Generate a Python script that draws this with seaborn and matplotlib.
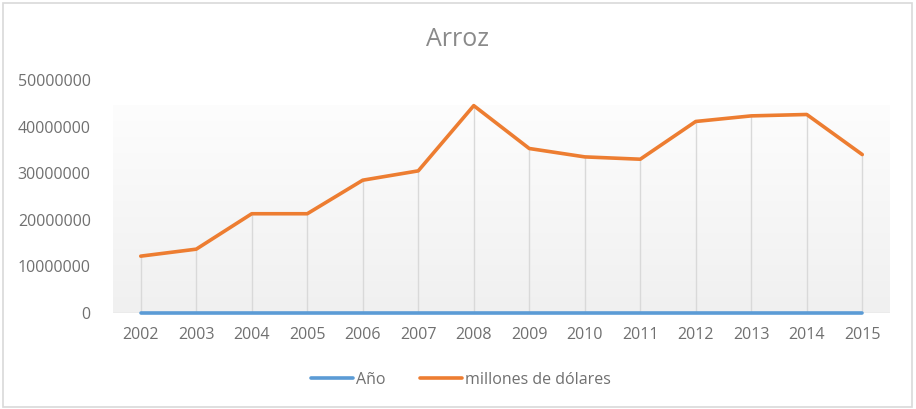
import numpy as np
import pandas as pd
import matplotlib.pyplot as plt
import seaborn as sns
from matplotlib.patches import Rectangle

# Datos
anios = [2002, 2003, 2004, 2005, 2006, 2007, 2008, 2009, 2010, 2011, 2012, 2013, 2014, 2015]
millones = [12200000, 13700000, 21300000, 21300000, 28500000, 30500000, 44500000,
            35300000, 33500000, 33000000, 41100000, 42300000, 42600000, 34000000]
etiquetas_y = [0, 10000000, 20000000, 30000000, 40000000, 50000000]

df = pd.DataFrame({"x": anios, "Año": anios, "millones de dólares": millones})

sns.set_style("white")
plt.rcParams['font.family'] = ['Open Sans', 'DejaVu Sans']
gris_texto = "#707070"

fig = plt.figure(figsize=(9.16, 4.09), dpi=100)
ax = fig.add_axes([113 / 916, 1 - 313 / 409, 777 / 916, 233 / 409])

# Fondo degradado del área de trazado
grad = np.linspace(0, 1, 256).reshape(-1, 1)
cmap = sns.blend_palette(["#fdfdfd", "#f0f0f0"], as_cmap=True)
ax.imshow(grad, extent=(2001.5, 2015.5, 0, 44600000), aspect='auto',
          cmap=cmap, origin='upper', zorder=0)

# Líneas de caída
ax.vlines(anios, 0, millones, color="#d9d9d9", lw=1, zorder=1)
ax.axhline(0, color="#d9d9d9", lw=1, zorder=1)

sns.lineplot(data=df, x="x", y="Año", color="#5B9BD5", lw=2.6, ax=ax,
             label="Año", zorder=3, clip_on=False)
sns.lineplot(data=df, x="x", y="millones de dólares", color="#ED7D31", lw=2.6,
             ax=ax, label="millones de dólares", zorder=3)

ax.set_xlim(2001.5, 2015.5)
ax.set_ylim(0, 50000000)
ax.set_xticks(anios)
ax.set_xticklabels([str(a) for a in anios])
ax.set_yticks(etiquetas_y)
ax.set_yticklabels([str(v) for v in etiquetas_y])
ax.tick_params(axis='both', length=0, labelsize=11.5, labelcolor=gris_texto)
ax.tick_params(axis='y', pad=16)
ax.tick_params(axis='x', pad=10)
ax.set_xlabel("")
ax.set_ylabel("")
for s in ax.spines.values():
    s.set_visible(False)
ax.patch.set_alpha(0)

fig.text(0.5, 1 - 40 / 409, "Arroz", ha='center', va='center',
         fontsize=18, color="#8a8a8a")

ax.legend(loc='center', ncol=2, frameon=False, fontsize=11.5,
          labelcolor=gris_texto, handlelength=2.6, handletextpad=0.2,
          columnspacing=2.2)
leg = ax.get_legend()
leg.set_bbox_to_anchor((461 / 916, 1 - 380 / 409), transform=fig.transFigure)

fig.patches.append(Rectangle((3 / 916, 2 / 409), 909 / 916, 404 / 409,
                             transform=fig.transFigure, fill=False,
                             edgecolor="#d9d9d9", lw=1.2))

fig.savefig("out.png", dpi=100)
